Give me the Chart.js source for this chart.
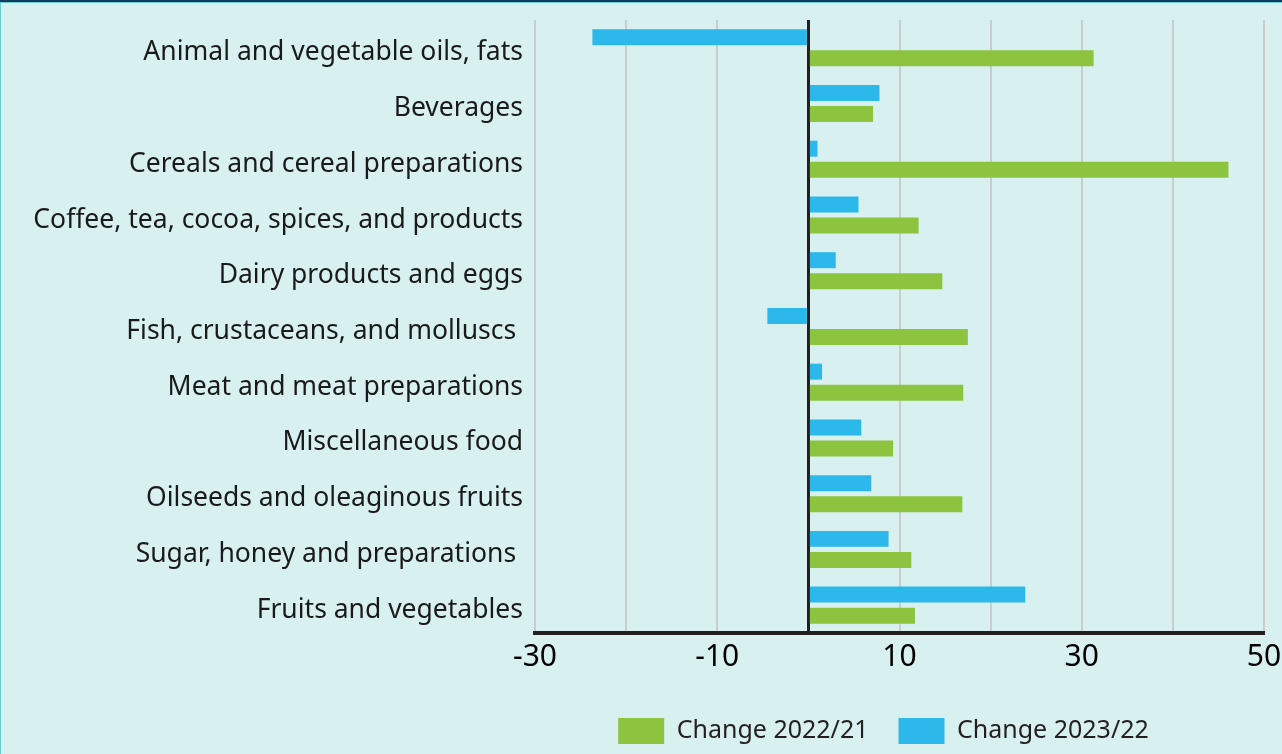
<!DOCTYPE html>
<html>
<head>
<meta charset="utf-8">
<script src="https://cdn.jsdelivr.net/npm/chart.js@4.4.0/dist/chart.umd.min.js"></script>
<style>
  html, body { margin: 0; padding: 0; background: #d8f0f0; }
  #wrap { width: 1282px; height: 754px; position: relative; }
</style>
</head>
<body>
<div id="wrap"><canvas id="chart" width="1282" height="754"></canvas></div>
<script>
var categories = [
    'Animal and vegetable oils, fats',
    'Beverages',
    'Cereals and cereal preparations',
    'Coffee, tea, cocoa, spices, and products',
    'Dairy products and eggs',
    'Fish, crustaceans, and molluscs ',
    'Meat and meat preparations',
    'Miscellaneous food',
    'Oilseeds and oleaginous fruits',
    'Sugar, honey and preparations ',
    'Fruits and vegetables'
];
var change2022_21 = [31.3, 7.1, 46.1, 12.1, 14.7, 17.5, 17.0, 9.3, 16.9, 11.3, 11.7];
var change2023_22 = [-23.7, 7.8, 1.0, 5.5, 3.0, -4.5, 1.5, 5.8, 6.9, 8.8, 23.8];
var tickLabels = [-30, -10, 10, 30, 50];

// background + frame lines, and nudge legend a bit left
var framePlugin = {
    id: 'frame',
    afterLayout: function (chart) {
        if (chart.legend) {
            chart.legend.left -= 16;
            chart.legend.right -= 16;
        }
    },
    beforeDraw: function (chart) {
        var ctx = chart.ctx;
        ctx.save();
        ctx.fillStyle = '#d8f0f0';
        ctx.fillRect(0, 0, chart.width, chart.height);
        ctx.fillStyle = '#6ccad0';
        ctx.fillRect(0, 0, 1, chart.height);
        ctx.fillRect(0, 2, chart.width, 1);
        ctx.fillStyle = '#123f5f';
        ctx.fillRect(0, 0, chart.width, 2);
        ctx.restore();
    }
};

var ctx = document.getElementById('chart').getContext('2d');
var myBar = new Chart(ctx, {
    type: 'bar',
    data: {
        labels: categories,
        datasets: [{
            label: 'Change 2023/22',
            data: change2023_22,
            backgroundColor: '#2cb8ea',
            categoryPercentage: 0.755,
            barPercentage: 0.76
        }, {
            label: 'Change 2022/21',
            data: change2022_21,
            backgroundColor: '#8cc43f',
            categoryPercentage: 0.755,
            barPercentage: 0.76
        }]
    },
    options: {
        indexAxis: 'y',
        responsive: false,
        animation: false,
        layout: { padding: { top: 14, right: 0, left: 0, bottom: 0 } },
        plugins: {
            legend: {
                position: 'bottom',
                fullSize: false,
                reverse: true,
                labels: {
                    boxWidth: 46,
                    boxHeight: 26,
                    padding: 30,
                    color: '#231f20',
                    font: { family: 'Noto Sans', size: 25 }
                }
            },
            tooltip: { enabled: false }
        },
        scales: {
            x: {
                min: -30,
                max: 50,
                ticks: {
                    stepSize: 10,
                    padding: 6,
                    color: '#000',
                    font: { family: 'Noto Sans', size: 30 },
                    callback: function (v) {
                        return tickLabels.indexOf(v) >= 0 ? v : '';
                    }
                },
                grid: {
                    drawTicks: false,
                    color: function (c) { return c.tick && c.tick.value === 0 ? '#231f20' : '#cccccc'; },
                    lineWidth: function (c) { return c.tick && c.tick.value === 0 ? 3 : 2; }
                },
                border: { color: '#231f20', width: 4 },
                afterFit: function (scale) {
                    scale.height += 7;
                    scale.paddingRight = 18;
                }
            },
            y: {
                grid: { display: false },
                border: { display: false },
                ticks: {
                    padding: 4,
                    labelOffset: 5,
                    color: '#1a1a1a',
                    font: { family: 'Noto Sans', size: 26.5 }
                },
                afterFit: function (scale) { scale.width = 535; }
            }
        }
    },
    plugins: [framePlugin]
});
</script>
</body>
</html>
